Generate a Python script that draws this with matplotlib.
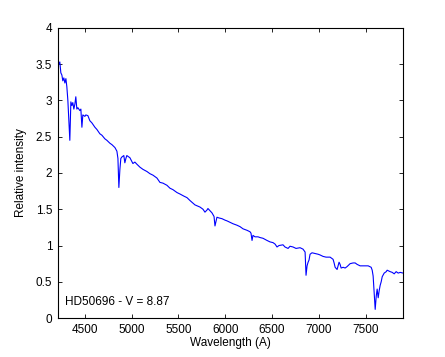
import numpy as np
import matplotlib
matplotlib.use("Agg")
import matplotlib.pyplot as plt

# spectrum (wavelength in A, relative intensity)
wavelength = [4211, 4222, 4232, 4243, 4254, 4264, 4275, 4286, 4297, 4307,
              4318, 4328, 4339, 4350, 4361, 4371, 4382, 4393, 4403, 4414,
              4425, 4446, 4457, 4468, 4478, 4500, 4510, 4532, 4553, 4575,
              4607, 4628, 4660, 4682, 4714, 4735, 4767, 4789, 4821, 4842,
              4853, 4863, 4874, 4884, 4895, 4916, 4927, 4938, 4948, 4981,
              5013, 5034, 5056, 5088, 5120, 5163, 5195, 5227, 5270, 5302,
              5334, 5377, 5409, 5441, 5484, 5516, 5559, 5591, 5623, 5676,
              5730, 5762, 5783, 5805, 5815, 5837, 5858, 5880, 5890, 5901,
              5911, 5933, 5965, 5997, 6018, 6050, 6083, 6125, 6158, 6190,
              6232, 6264, 6275, 6286, 6296, 6318, 6350, 6371, 6403, 6446,
              6478, 6510, 6532, 6553, 6574, 6617, 6638, 6671, 6692, 6724,
              6756, 6799, 6831, 6853, 6863, 6874, 6885, 6895, 6906, 6927,
              6959, 6992, 7013, 7045, 7077, 7120, 7152, 7163, 7174, 7195,
              7216, 7227, 7238, 7259, 7281, 7302, 7334, 7366, 7388, 7409,
              7441, 7495, 7527, 7559, 7570, 7580, 7591, 7602, 7613, 7623,
              7634, 7645, 7655, 7666, 7677, 7698, 7720, 7730, 7762, 7784,
              7805, 7826, 7848, 7869, 7901]
intensity = [3.48, 3.50, 3.53, 3.38, 3.35, 3.27, 3.31, 3.24, 3.30, 3.19,
             3.00, 2.75, 2.45, 2.98, 2.93, 2.97, 2.88, 2.95, 3.05, 2.88,
             2.90, 2.86, 2.88, 2.63, 2.80, 2.78, 2.80, 2.79, 2.72, 2.69,
             2.63, 2.60, 2.54, 2.52, 2.47, 2.45, 2.41, 2.39, 2.35, 2.30,
             2.20, 1.80, 2.05, 2.20, 2.22, 2.24, 2.14, 2.20, 2.24, 2.21,
             2.13, 2.15, 2.12, 2.08, 2.05, 2.02, 1.99, 1.97, 1.93, 1.87,
             1.86, 1.83, 1.79, 1.77, 1.73, 1.71, 1.68, 1.66, 1.62, 1.56,
             1.53, 1.50, 1.46, 1.49, 1.51, 1.48, 1.45, 1.40, 1.27, 1.33,
             1.39, 1.38, 1.37, 1.35, 1.34, 1.32, 1.30, 1.28, 1.26, 1.23,
             1.21, 1.19, 1.17, 1.07, 1.14, 1.12, 1.12, 1.11, 1.10, 1.07,
             1.05, 1.04, 1.02, 0.98, 1.00, 1.01, 0.98, 0.96, 0.99, 0.98,
             0.96, 0.97, 0.95, 0.91, 0.59, 0.72, 0.77, 0.80, 0.88, 0.90,
             0.89, 0.88, 0.87, 0.85, 0.84, 0.84, 0.81, 0.76, 0.70, 0.67,
             0.77, 0.74, 0.69, 0.70, 0.69, 0.71, 0.75, 0.76, 0.76, 0.74,
             0.72, 0.72, 0.72, 0.70, 0.66, 0.58, 0.35, 0.12, 0.30, 0.40,
             0.28, 0.38, 0.45, 0.50, 0.57, 0.62, 0.64, 0.66, 0.64, 0.63,
             0.61, 0.64, 0.62, 0.63, 0.62]

x_ticks = [4500, 5000, 5500, 6000, 6500, 7000, 7500]
y_ticks = [0, 0.5, 1, 1.5, 2, 2.5, 3, 3.5, 4]
y_labels = ["0", "0.5", "1", "1.5", "2", "2.5", "3", "3.5", "4"]
star_label = "HD50696 - V = 8.87"

plt.rcParams['font.family'] = ['Liberation Sans', 'DejaVu Sans']
plt.rcParams['font.size'] = 8.5

fig = plt.figure(figsize=(4.45, 3.57), dpi=100)
ax = fig.add_axes([0.130, 0.109, 0.776, 0.813])

ax.plot(wavelength, intensity, color='#0000ff', linewidth=0.8)

ax.set_xlim(4211, 7901)
ax.set_ylim(0, 4)
ax.set_xticks(x_ticks)
ax.set_yticks(y_ticks)
ax.set_yticklabels(y_labels)
ax.tick_params(direction='in', length=3, width=0.6, top=True, right=True,
               labelsize=8.5, pad=4)
for s in ax.spines.values():
    s.set_linewidth(0.8)

ax.set_xlabel("Wavelength (A)", fontsize=8.5, labelpad=1)
ax.set_ylabel("Relative intensity", fontsize=8.5, labelpad=6)
ax.text(4290, 0.22, star_label, fontsize=8.5, va='center', ha='left')

fig.savefig("out.png", dpi=100)
